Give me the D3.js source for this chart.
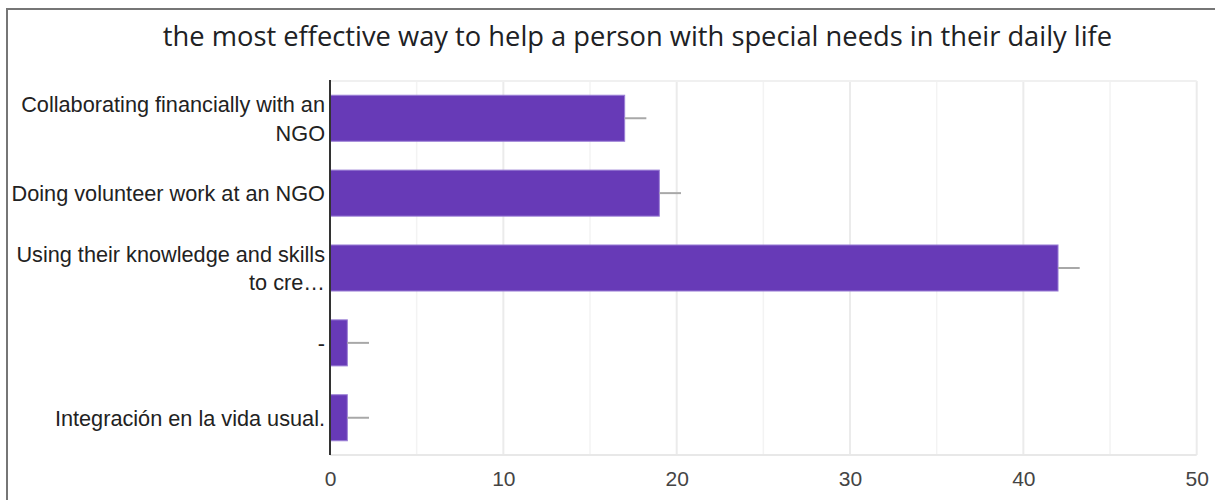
<!DOCTYPE html>
<html>
<head>
<meta charset="utf-8">
<script src="https://cdn.jsdelivr.net/npm/d3@7"></script>
<style>
  html, body { margin: 0; padding: 0; background: #fff; }
  svg { display: block; }
</style>
</head>
<body>
<div id="chart"></div>
<script>
const title = "the most effective way to help a person with special needs in their daily life";
const categories = [
    ["Collaborating financially with an", "NGO"],
    ["Doing volunteer work at an NGO"],
    ["Using their knowledge and skills", "to cre…"],
    ["-"],
    ["Integración en la vida usual."]
];
const values = [17, 19, 42, 1, 1];
const errors = [1.25, 1.25, 1.25, 1.25, 1.25];
const xTicks = [0, 10, 20, 30, 40, 50];
const xMinorTicks = [5, 15, 25, 35, 45];

const W = 1215, H = 500;
const margin = { top: 81, right: 20, bottom: 45, left: 330 };
const width = 1196.7 - margin.left;
const height = 455 - margin.top;

const svg = d3.select("#chart").append("svg")
    .attr("width", W)
    .attr("height", H);

// outer frame
svg.append("rect")
    .attr("x", 7).attr("y", 9)
    .attr("width", W + 10).attr("height", H + 10)
    .attr("fill", "none")
    .attr("stroke", "#767676")
    .attr("stroke-width", 2);

svg.append("text")
    .attr("x", 637.5)
    .attr("y", 46)
    .attr("text-anchor", "middle")
    .style("font-family", "'Open Sans', Roboto, sans-serif")
    .style("font-size", "27.3px")
    .style("fill", "#202124")
    .text(title);

const chart = svg.append("g")
    .attr("transform", `translate(${margin.left},${margin.top})`);

const x = d3.scaleLinear().domain([0, 50]).range([0, width]);
const y = d3.scaleBand()
    .domain(d3.range(categories.length))
    .range([0, height])
    .paddingInner(0.385)
    .paddingOuter(0.19);

// gridlines
chart.selectAll(".minor")
    .data(xMinorTicks)
    .enter().append("line")
    .attr("x1", d => x(d)).attr("x2", d => x(d))
    .attr("y1", 0).attr("y2", height)
    .attr("stroke", "#f3f3f3")
    .attr("stroke-width", 1.5);

chart.selectAll(".major")
    .data(xTicks.slice(1))
    .enter().append("line")
    .attr("x1", d => x(d)).attr("x2", d => x(d))
    .attr("y1", 0).attr("y2", height)
    .attr("stroke", "#ebebeb")
    .attr("stroke-width", 2);

chart.append("line")
    .attr("x1", 0).attr("x2", width)
    .attr("y1", 0).attr("y2", 0)
    .attr("stroke", "#f0f0f0")
    .attr("stroke-width", 2);

chart.append("line")
    .attr("x1", 0).attr("x2", width)
    .attr("y1", height).attr("y2", height)
    .attr("stroke", "#e8e8e8")
    .attr("stroke-width", 2);

// bars
chart.selectAll(".bar")
    .data(values)
    .enter().append("rect")
    .attr("class", "bar")
    .attr("x", x(0))
    .attr("y", (d, i) => y(i))
    .attr("width", d => x(d) - x(0))
    .attr("height", y.bandwidth())
    .attr("fill", "#673ab7")
    .attr("stroke", "#9c80d6")
    .attr("stroke-width", 1);

// error bars
chart.selectAll(".err")
    .data(values)
    .enter().append("line")
    .attr("x1", d => x(d))
    .attr("x2", (d, i) => x(d + errors[i]))
    .attr("y1", (d, i) => y(i) + y.bandwidth() / 2)
    .attr("y2", (d, i) => y(i) + y.bandwidth() / 2)
    .attr("stroke", "#a8a8a8")
    .attr("stroke-width", 2);

// y axis line
chart.append("line")
    .attr("x1", 0).attr("x2", 0)
    .attr("y1", -1).attr("y2", height)
    .attr("stroke", "#333")
    .attr("stroke-width", 2);

// category labels
const labels = chart.selectAll(".cat")
    .data(categories)
    .enter().append("text")
    .attr("class", "cat")
    .attr("text-anchor", "end")
    .style("font-family", "Arial, 'Liberation Sans', sans-serif")
    .style("font-size", "21.7px")
    .style("fill", "#222");

labels.each(function (lines, i) {
    const cy = y(i) + y.bandwidth() / 2;
    const lh = 28.5;
    const start = cy - (lines.length - 1) * lh / 2 + 8;
    d3.select(this).selectAll("tspan")
        .data(lines)
        .enter().append("tspan")
        .attr("x", -5)
        .attr("y", (d, j) => start + j * lh)
        .text(d => d);
});

// x tick labels
chart.append("g")
    .attr("transform", `translate(0,${height})`)
    .call(d3.axisBottom(x).tickValues(xTicks).tickSize(0).tickPadding(16))
    .call(g => g.select(".domain").remove())
    .selectAll("text")
    .style("font-family", "Arial, 'Liberation Sans', sans-serif")
    .style("font-size", "21px")
    .style("fill", "#444");
</script>
</body>
</html>
